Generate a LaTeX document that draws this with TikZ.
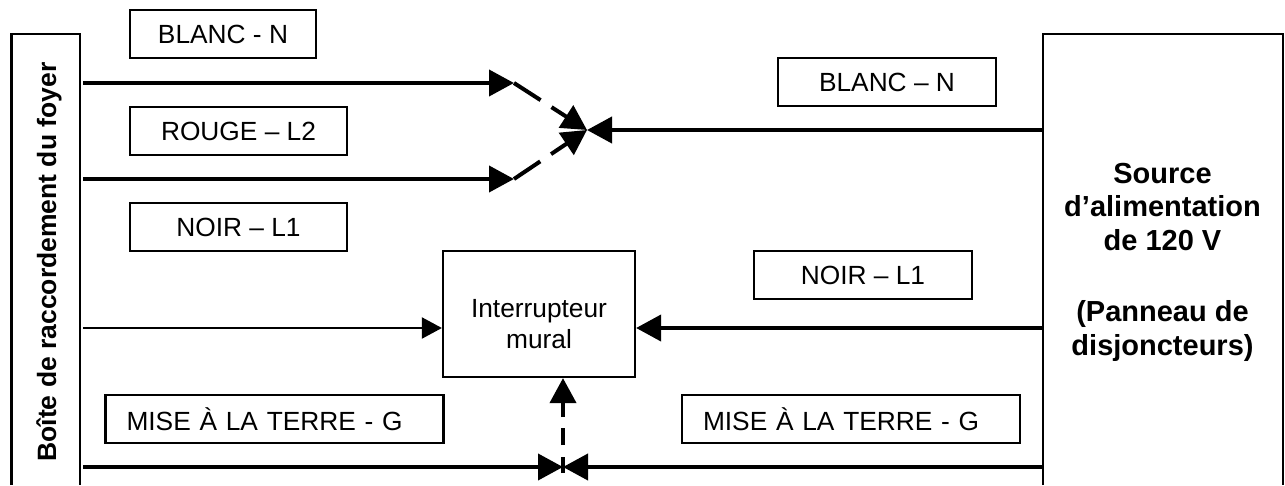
\documentclass[tikz,border=0pt]{standalone}
\usepackage{fontspec}
\setmainfont{Liberation Sans}
\usetikzlibrary{positioning, arrows.meta}
\tikzset{
    label text/.style = {font=\fontsize{26.3}{31}\selectfont, inner sep=0pt},
    label box/.style = {label text, draw, line width=2.2pt, minimum height=48pt},
    mise box/.style = {label box, text width=296pt, inner xsep=21pt, align=left},
    side title/.style = {font=\bfseries\fontsize{26.5}{32.5}\selectfont, align=center},
    source title/.style = {font=\bfseries\fontsize{29}{33.5}\selectfont, align=center},
    wire/.style = {line width=4pt, -{Triangle[length=25pt,width=26pt]}},
    thin wire/.style = {line width=2pt, -{Triangle[length=20pt,width=21pt]}},
    dash wire/.style = {wire, dash pattern=on 31.6pt off 13pt}
}
\begin{document}
\begin{tikzpicture}[x=1pt, y=-1pt]
    \useasboundingbox (0,0) rectangle (1285,485);
    % Panels
    \draw[line width=2.5pt] (11.5,485) -- (11.5,34) -- (80,34) -- (80,485);
    \draw[line width=2.5pt] (1043,485) -- (1043,34) -- (1283,34) -- (1283,485);
    \node[side title, rotate=90] (foyer) at (49,262) {Boîte de raccordement du foyer};
    \node[source title] (source) at (1162.5,262) {Source\\d’alimentation\\de 120 V\\[38pt](Panneau de\\disjoncteurs)};

    % Labels
    \node[label box, minimum width=186pt] (blancg) at (223,34) {BLANC - N};
    \node[label box, minimum width=217pt] (rouge) at (238.5,131) {ROUGE – L2};
    \node[label box, minimum width=217pt] (noirg) at (238.5,227) {NOIR – L1};
    \node[label box, minimum width=218pt] (blancd) at (887,82) {BLANC – N};
    \node[label box, minimum width=218pt] (noird) at (863,275) {NOIR – L1};
    \node[mise box] (miseg) at (274.5,419) {MISE À LA TERRE - G};
    \node[mise box] (mised) at (851,419) {MISE À LA TERRE - G};
    \node[label box, minimum width=192pt, minimum height=126pt] (inter) at (539,314) {};
    \node[label text, align=center, yshift=-10pt] (intertext) at (inter.center) {Interrupteur\\mural};

    % Points
    \coordinate (a1) at (83,83);
    \coordinate (a2) at (514,83);
    \coordinate (b1) at (83,179);
    \coordinate (b2) at (514,179);
    \coordinate (m) at (587,130);
    \coordinate (s1) at (1043,130);
    \coordinate (s2) at (1043,328);
    \coordinate (c1) at (83,328);
    \coordinate (s3) at (1043,467);
    \coordinate (g1) at (83,467);
    \coordinate (g) at (563,467);
    \coordinate (gb) at (563,473);

    % Wires
    \draw[wire] (a1) -- (a2);
    \draw[wire] (b1) -- (b2);
    \draw[wire] (s1) -- (m);
    \draw[thin wire] (c1) -- (inter.west |- c1);
    \draw[wire] (s2) -- (inter.east |- s2);
    \draw[wire] (g1) -- (g);
    \draw[wire] (s3) -- (g);

    % Dashed
    \draw[dash wire] (a2) -- (m);
    \draw[dash wire] (b2) -- (m);
    \draw[wire, dash pattern=on 16pt off 12pt on 17pt off 11pt] (gb) -- (inter.south -| gb);
\end{tikzpicture}
\end{document}
